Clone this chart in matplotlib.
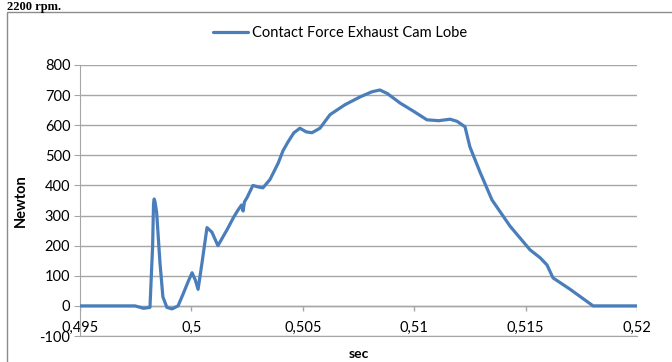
import matplotlib
matplotlib.use("Agg")
from matplotlib import pyplot as plt
from matplotlib.patches import Rectangle
import numpy as np

# contact force (sec, Newton)
time_s = [0.495, 0.4970, 0.49747, 0.49785, 0.49814, 0.49826, 0.49830, 0.49833,
          0.49837, 0.49844, 0.49859, 0.49872, 0.49890, 0.49913, 0.49940, 0.49962,
          0.49985, 0.50003, 0.50018, 0.50030, 0.50048, 0.50070, 0.50092, 0.50119,
          0.50160, 0.50190, 0.50209, 0.50225, 0.50232, 0.50238, 0.50250, 0.50276,
          0.50300, 0.50321, 0.50353, 0.50390, 0.50411, 0.50434, 0.50460, 0.50487,
          0.50515, 0.50541, 0.50577, 0.50622, 0.50689, 0.50757, 0.50810, 0.50846,
          0.50880, 0.50936, 0.51000, 0.51057, 0.51110, 0.51161, 0.51192, 0.51228,
          0.51250, 0.51295, 0.51349, 0.51430, 0.51520, 0.51565, 0.51596, 0.51623,
          0.51700, 0.51803, 0.52]
force_n = [0, 0, 0, -8, -5, 200, 340, 355,
           345, 310, 143, 30, -5, -10, 0, 38,
           80, 110, 85, 55, 145, 260, 245, 200,
           253, 295, 318, 335, 315, 345, 360, 400,
           395, 392, 420, 475, 515, 545, 575, 590,
           578, 575, 590, 635, 668, 694, 711, 717,
           705, 674, 645, 618, 615, 620, 613, 595,
           528, 445, 352, 265, 186, 160, 136, 93,
           55, 0, 0]

x_ticks = [0.495, 0.5, 0.505, 0.51, 0.515, 0.52]
x_labels = ["0,495", "0,5", "0,505", "0,51", "0,515", "0,52"]
y_ticks = list(range(-100, 801, 100))

plt.rcParams['font.family'] = ['Lato', 'DejaVu Sans']
plt.rcParams['axes.unicode_minus'] = False
grid_col = "#a6a6a6"

fig = plt.figure(figsize=(6.72, 3.62), dpi=100)
ax = fig.add_axes([80 / 672, 26 / 362, 557 / 672, 271 / 362])

ax.plot(time_s, force_n, color="#4a7ebb", lw=2.3, solid_joinstyle="round",
        solid_capstyle="round", label="Contact Force Exhaust Cam Lobe", zorder=3)

ax.set_xlim(0.495, 0.52)
ax.set_ylim(-100, 800)
ax.set_yticks(y_ticks)
ax.set_xticks(x_ticks)
ax.set_xticklabels(x_labels)
ax.yaxis.grid(True, color=grid_col, lw=1)
ax.set_axisbelow(True)

# horizontal axis line crosses at 0 with small tick marks
ax.axhline(0, color=grid_col, lw=1, zorder=2)
ax.vlines(x_ticks, -16, 0, color=grid_col, lw=1, zorder=2)

for s in ["top", "right"]:
    ax.spines[s].set_visible(False)
ax.spines["left"].set_color(grid_col)
ax.spines["bottom"].set_color(grid_col)
ax.tick_params(axis="y", length=4, color=grid_col, labelsize=10.5, pad=3)
ax.tick_params(axis="x", length=0, labelsize=10.5, pad=-11)

ax.set_ylabel("Newton", fontsize=10.5, fontweight="bold", labelpad=8)
ax.set_xlabel("sec", fontsize=10, fontweight="bold", labelpad=9)

leg = ax.legend(loc="upper center", bbox_to_anchor=(340 / 672, 1 - 20 / 362),
                bbox_transform=fig.transFigure, frameon=False, fontsize=10.5,
                handlelength=2.4, handletextpad=0.3, borderaxespad=0)

# chart area border and the caption above it
fig.patches.append(Rectangle((7 / 672, -0.1), 1.2, 1 - 12 / 362 + 0.1,
                             transform=fig.transFigure, fill=False,
                             ec="#8c8c8c", lw=1))
fig.text(7 / 672, 1 - 10 / 362, "2200 rpm.", family="Liberation Serif",
         fontweight="bold", fontsize=9, va="baseline")

fig.savefig("out.png", dpi=100)
